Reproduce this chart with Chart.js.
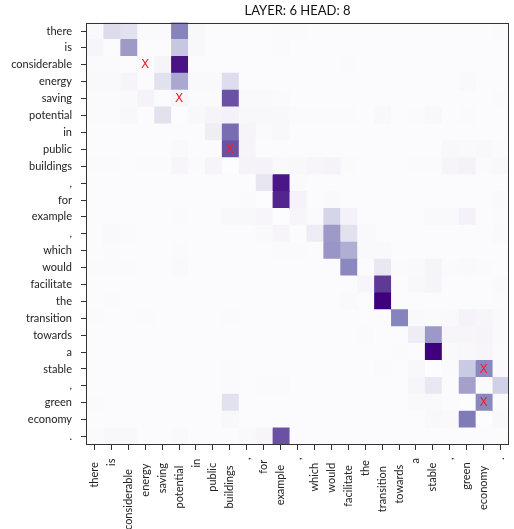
<!DOCTYPE html>
<html>
<head>
<meta charset="utf-8">
<script src="https://cdn.jsdelivr.net/npm/chart.js@4"></script>
<style>
html,body{margin:0;padding:0;background:#fff;}
#wrap{width:514px;height:529px;}
</style>
</head>
<body>
<div id="wrap"><canvas id="c" width="514" height="529"></canvas></div>
<script>
const tokens = ["there","is","considerable","energy","saving","potential","in","public","buildings",",","for","example",",","which","would","facilitate","the","transition","towards","a","stable",",","green","economy","."];
const title = "LAYER: 6 HEAD: 8";

const row00 = [0.03,0.24,0.2,0.02,0.02,0.6,0.04,0.01,0.01,0.01,0.01,0.02,0.02,0.01,0.01,0.01,0.01,0.01,0.01,0.01,0.01,0.01,0.01,0.01,0.02];
const row01 = [0.05,0.01,0.5,0.01,0.01,0.33,0.04,0.01,0.01,0.01,0.01,0.02,0.01,0.01,0.01,0.01,0.01,0.01,0.01,0.01,0.01,0.01,0.01,0.01,0.01];
const row02 = [0.02,0.02,0.01,0.01,0.06,0.94,0.01,0.01,0.01,0.01,0.01,0.01,0.01,0.01,0.01,0.02,0.01,0.01,0.01,0.01,0.01,0.01,0.01,0.01,0.01];
const row03 = [0.03,0.03,0.06,0.01,0.2,0.45,0.03,0.03,0.23,0.01,0.01,0.01,0.01,0.01,0.01,0.01,0.01,0.01,0.01,0.01,0.01,0.01,0.03,0.01,0.01];
const row04 = [0.02,0.02,0.03,0.07,0.01,0.05,0.02,0.02,0.75,0.03,0.03,0.02,0.01,0.01,0.01,0.01,0.01,0.01,0.01,0.01,0.01,0.01,0.01,0.01,0.02];
const row05 = [0.02,0.02,0.04,0.01,0.2,0.0,0.04,0.06,0.08,0.04,0.04,0.04,0.02,0.02,0.02,0.02,0.01,0.04,0.01,0.02,0.04,0.01,0.02,0.01,0.01];
const row06 = [0.01,0.01,0.01,0.01,0.01,0.01,0.01,0.12,0.67,0.06,0.02,0.04,0.01,0.01,0.01,0.01,0.01,0.01,0.01,0.01,0.01,0.01,0.01,0.01,0.01];
const row07 = [0.01,0.01,0.01,0.01,0.01,0.03,0.01,0.01,0.75,0.06,0.01,0.01,0.01,0.01,0.01,0.01,0.01,0.01,0.01,0.01,0.01,0.04,0.03,0.04,0.02];
const row08 = [0.02,0.02,0.01,0.02,0.02,0.05,0.02,0.06,0.0,0.07,0.07,0.03,0.04,0.05,0.07,0.02,0.01,0.01,0.01,0.02,0.02,0.06,0.08,0.02,0.04];
const row09 = [0.01,0.01,0.01,0.01,0.01,0.01,0.01,0.01,0.01,0.01,0.17,0.93,0.02,0.01,0.01,0.01,0.01,0.01,0.01,0.01,0.01,0.01,0.01,0.01,0.01];
const row10 = [0.01,0.01,0.01,0.01,0.01,0.01,0.01,0.01,0.01,0.02,0.0,0.88,0.07,0.01,0.03,0.01,0.01,0.01,0.01,0.01,0.01,0.01,0.01,0.01,0.03];
const row11 = [0.01,0.01,0.01,0.01,0.01,0.02,0.01,0.01,0.04,0.04,0.05,0.0,0.05,0.02,0.27,0.08,0.01,0.01,0.01,0.01,0.03,0.03,0.08,0.01,0.02];
const row12 = [0.01,0.03,0.02,0.01,0.01,0.01,0.01,0.01,0.01,0.01,0.03,0.06,0.01,0.13,0.5,0.2,0.03,0.01,0.01,0.01,0.01,0.01,0.01,0.01,0.03];
const row13 = [0.01,0.02,0.01,0.01,0.01,0.02,0.01,0.01,0.01,0.01,0.01,0.02,0.02,0.01,0.52,0.43,0.03,0.03,0.01,0.01,0.01,0.01,0.01,0.01,0.01];
const row14 = [0.02,0.02,0.02,0.01,0.01,0.03,0.01,0.01,0.01,0.01,0.01,0.01,0.01,0.01,0.01,0.58,0.01,0.16,0.02,0.03,0.06,0.02,0.03,0.02,0.01];
const row15 = [0.01,0.01,0.01,0.01,0.01,0.01,0.01,0.01,0.01,0.01,0.01,0.01,0.01,0.01,0.01,0.01,0.05,0.82,0.01,0.04,0.06,0.01,0.01,0.01,0.03];
const row16 = [0.01,0.02,0.01,0.01,0.01,0.01,0.01,0.01,0.01,0.01,0.01,0.01,0.01,0.01,0.01,0.03,0.01,1.0,0.01,0.01,0.01,0.01,0.01,0.01,0.02];
const row17 = [0.02,0.01,0.01,0.02,0.01,0.01,0.01,0.01,0.02,0.01,0.01,0.01,0.01,0.01,0.01,0.01,0.01,0.01,0.6,0.03,0.02,0.03,0.07,0.05,0.03];
const row18 = [0.01,0.01,0.01,0.01,0.01,0.01,0.01,0.01,0.01,0.01,0.01,0.01,0.01,0.01,0.01,0.01,0.02,0.01,0.01,0.13,0.51,0.05,0.05,0.06,0.03];
const row19 = [0.01,0.01,0.01,0.01,0.01,0.01,0.01,0.01,0.01,0.01,0.01,0.01,0.01,0.01,0.01,0.01,0.01,0.01,0.02,0.01,1.0,0.03,0.04,0.05,0.02];
const row20 = [0.01,0.01,0.01,0.01,0.01,0.01,0.01,0.01,0.02,0.01,0.01,0.01,0.01,0.01,0.01,0.01,0.01,0.02,0.01,0.04,0.0,0.02,0.32,0.58,0.03];
const row21 = [0.01,0.01,0.01,0.01,0.01,0.01,0.01,0.01,0.02,0.01,0.02,0.02,0.01,0.01,0.01,0.01,0.01,0.01,0.01,0.05,0.16,0.01,0.48,0.02,0.29];
const row22 = [0.02,0.01,0.01,0.01,0.01,0.01,0.01,0.01,0.2,0.01,0.01,0.01,0.01,0.01,0.01,0.01,0.01,0.01,0.01,0.03,0.03,0.01,0.0,0.58,0.03];
const row23 = [0.01,0.01,0.01,0.01,0.01,0.01,0.01,0.01,0.04,0.01,0.01,0.01,0.01,0.01,0.01,0.01,0.01,0.01,0.01,0.01,0.04,0.03,0.63,0.0,0.04];
const row24 = [0.02,0.04,0.04,0.01,0.01,0.03,0.01,0.01,0.01,0.03,0.05,0.75,0.01,0.01,0.01,0.01,0.01,0.01,0.01,0.01,0.01,0.01,0.01,0.01,0.01];
const attention = [row00,row01,row02,row03,row04,row05,row06,row07,row08,row09,row10,row11,row12,row13,row14,row15,row16,row17,row18,row19,row20,row21,row22,row23,row24];

// red X markers: [row, column]
const markerRows = [2,4,7,20,22];
const markerCols = [3,5,8,23,23];

const purples = ["#fcfbfd","#efedf5","#dadaeb","#bcbddc","#9e9ac8","#807dba","#6a51a3","#54278f","#3f007d"];
function hex(h){return [parseInt(h.slice(1,3),16),parseInt(h.slice(3,5),16),parseInt(h.slice(5,7),16)];}
function cmap(v){
  v=Math.max(0,Math.min(1,v));
  const t=v*(purples.length-1), i=Math.min(Math.floor(t),purples.length-2), f=t-i;
  const a=hex(purples[i]), b=hex(purples[i+1]);
  const c=a.map((x,k)=>Math.round(x+(b[k]-x)*f));
  return `rgb(${c[0]},${c[1]},${c[2]})`;
}

const datasets = tokens.map((tok,j)=>({
  label: tok,
  data: attention.map(()=>1),
  backgroundColor: attention.map(r=>cmap(r[j])),
  borderWidth: 0,
  inflateAmount: 0.5,
  barPercentage: 1,
  categoryPercentage: 1
}));

const FONT = "Lato";
const LABEL_COLOR = '#222';
const framePlugin = {
  id:'frame',
  afterDatasetsDraw(chart){
    const ctx=chart.ctx, xs=chart.scales.x, ys=chart.scales.y;
    ctx.save();
    ctx.fillStyle='#f0202a';
    ctx.font='12px "DejaVu Sans"';
    ctx.textAlign='center'; ctx.textBaseline='middle';
    for(let k=0;k<markerRows.length;k++){
      ctx.fillText('X', xs.getPixelForValue(markerCols[k]+0.5), ys.getPixelForValue(markerRows[k])+0.5);
    }
    ctx.restore();
  },
  afterDraw(chart){
    const a=chart.chartArea, ctx=chart.ctx, xs=chart.scales.x;
    ctx.save();
    ctx.strokeStyle='#333';
    ctx.lineWidth=1;
    ctx.strokeRect(Math.round(a.left)+0.5,Math.round(a.top)+0.5,Math.round(a.right-a.left)-1,Math.round(a.bottom-a.top)-1);
    // vertical x-axis labels
    ctx.fillStyle=LABEL_COLOR;
    ctx.font='11px '+FONT;
    ctx.textAlign='right'; ctx.textBaseline='middle';
    tokens.forEach((t,i)=>{
      const w=ctx.measureText(t).width;
      const x=xs.getPixelForValue(i+0.5);
      const y=a.bottom+12+0.2*w;
      ctx.save();
      ctx.translate(x,y);
      ctx.rotate(-Math.PI/2);
      ctx.fillText(t,0,0);
      ctx.restore();
    });
    ctx.restore();
  }
};

new Chart(document.getElementById('c'),{
  type:'bar',
  data:{labels:tokens,datasets},
  options:{
    indexAxis:'y',
    responsive:false,
    animation:false,
    layout:{padding:{left:0,right:5,top:0,bottom:0}},
    plugins:{
      legend:{display:false},
      tooltip:{enabled:false},
      title:{display:true,fullSize:false,text:title,color:'#111',font:{family:FONT,size:13,weight:'normal'},padding:{top:3,bottom:4}}
    },
    scales:{
      x:{
        type:'linear',stacked:true,min:0,max:25,
        afterBuildTicks(s){s.ticks=tokens.map((t,i)=>({value:i+0.5}));},
        afterFit(s){s.height=84;},
        ticks:{display:false,autoSkip:false},
        grid:{display:true,drawOnChartArea:false,drawTicks:true,tickLength:5,color:'#333'},
        border:{display:false}
      },
      y:{
        type:'category',stacked:true,
        afterFit(s){s.width=86;},
        ticks:{autoSkip:false,padding:9,color:LABEL_COLOR,font:{family:FONT,size:11}},
        grid:{display:true,offset:false,drawOnChartArea:false,drawTicks:true,tickLength:5,color:'#333'},
        border:{display:false}
      }
    }
  },
  plugins:[framePlugin]
});
</script>
</body>
</html>
